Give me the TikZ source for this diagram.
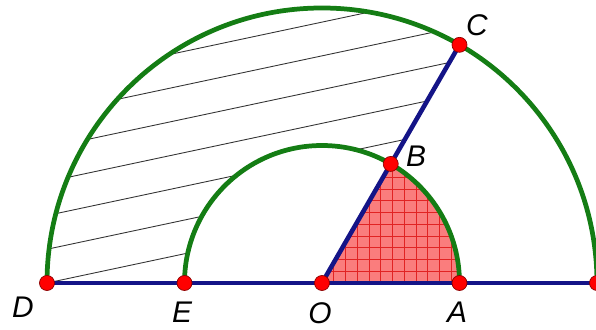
\documentclass[tikz,border=0pt]{standalone}
\usepackage{fontspec}
\setmainfont{Liberation Sans}
\usetikzlibrary{arrows.meta}
\definecolor{arcgreen}{RGB}{20,125,20}
\definecolor{segblue}{RGB}{20,20,135}
\definecolor{sectorpink}{RGB}{250,125,125}
\definecolor{gridred}{RGB}{225,35,35}

\begin{document}
\begin{tikzpicture}[
  dot/.style={circle,fill=red,draw=red!55!black,line width=0.4pt,inner sep=0pt,minimum size=0.3cm},
  lbl/.style={font=\fontsize{17}{20}\selectfont\itshape},
  arcline/.style={arcgreen,line width=2.7pt},
  segline/.style={segblue,line width=2.6pt},
  hatchline/.style={black!80,line width=0.5pt}]
  \useasboundingbox (-6.44,-0.92) rectangle (5.48,5.66);
  \coordinate (O) at (0,0);
  \coordinate (A) at (2.75,0);
  \coordinate (B) at (60:2.75);
  \coordinate (C) at (60:5.5);
  \coordinate (D) at (-5.5,0);
  \coordinate (E) at (-2.75,0);
  \coordinate (R) at (5.5,0);
  % hatched ring part
  \begin{scope}
    \clip (D) -- (E) arc[start angle=180,end angle=60,radius=2.75] -- (C)
      arc[start angle=60,end angle=180,radius=5.5] -- cycle;
    \foreach \n in {0,...,7}
      \draw[hatchline,shift={(102:0.66*\n)}] (-5.5,0) ++(192:2) -- ++(12:14);
  \end{scope}
  % sector OAB
  \fill[sectorpink] (O) -- (A) arc[start angle=0,end angle=60,radius=2.75] -- cycle;
  \begin{scope}
    \clip (O) -- (A) arc[start angle=0,end angle=60,radius=2.75] -- cycle;
    \draw[gridred,line width=0.4pt,step=0.235] (0,0) grid (3,3);
  \end{scope}
  \draw[arcline] (D) arc[start angle=180,end angle=0,radius=5.5];
  \draw[arcline] (E) arc[start angle=180,end angle=0,radius=2.75];
  \draw[segline] (D) -- (R);
  \draw[segline] (O) -- (C);
  \foreach \p in {O,A,B,C,D,E,R}
    \node[dot] (dot\p) at (\p) {};
  \node[lbl] (lD) at (-5.98,-0.48) {D};
  \node[lbl] (lE) at (-2.8,-0.58) {E};
  \node[lbl] (lO) at (-0.04,-0.6) {O};
  \node[lbl] (lA) at (2.7,-0.58) {A};
  \node[lbl] (lB) at (1.88,2.54) {B};
  \node[lbl] (lC) at (3.1,5.16) {C};
\end{tikzpicture}
\end{document}
